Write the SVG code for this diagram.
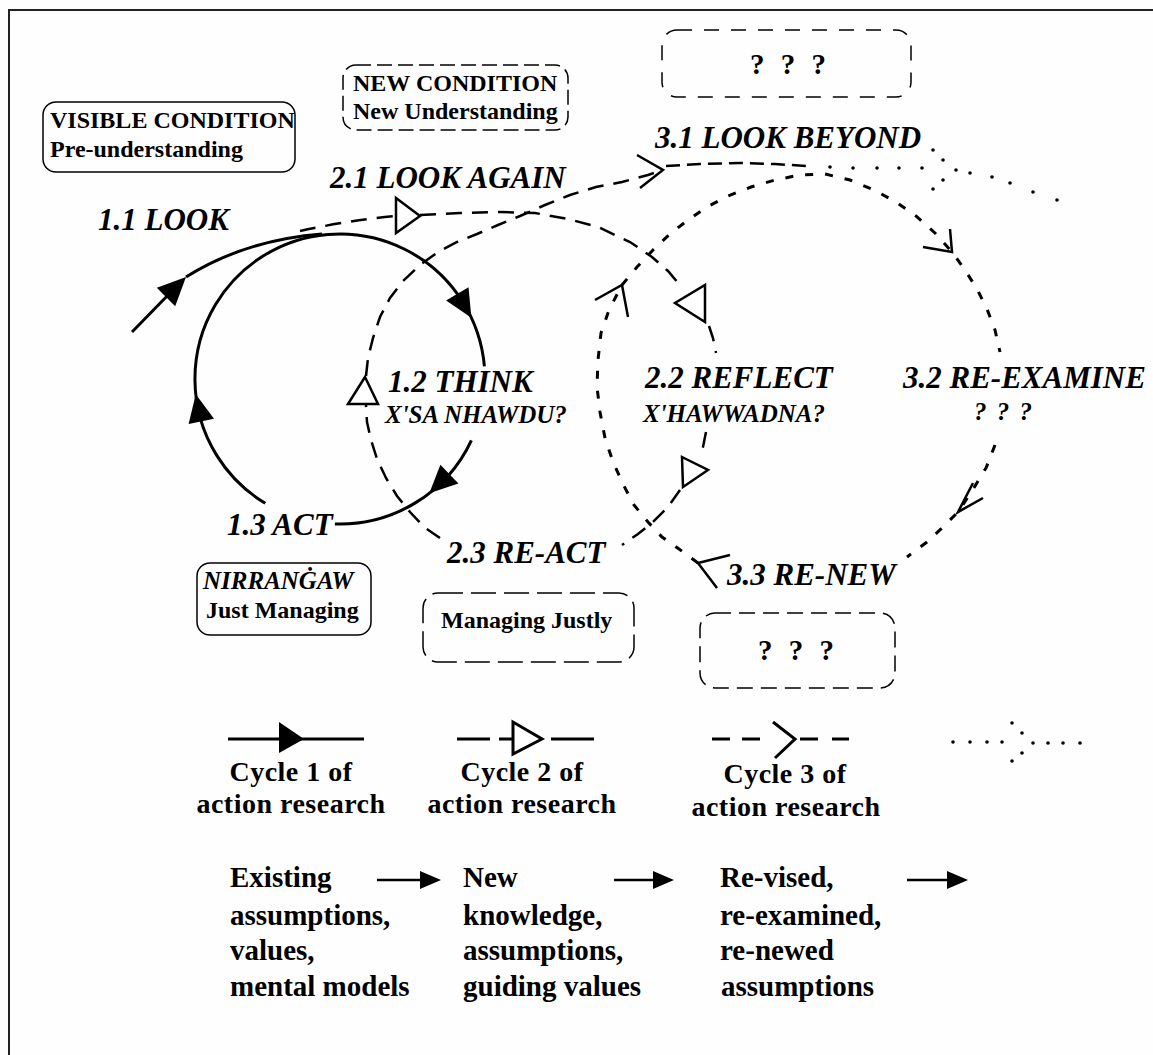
<svg xmlns="http://www.w3.org/2000/svg" width="1153" height="1055" viewBox="0 0 1153 1055">
<style>
.lbl{font-family:"Liberation Serif",serif;font-style:italic;font-weight:bold;font-size:31px;fill:#000}
.sub{font-family:"Liberation Serif",serif;font-style:italic;font-weight:bold;font-size:25px;fill:#000}
.bt{font-family:"Liberation Serif",serif;font-weight:bold;font-size:24px;fill:#000}
.q{font-family:"Liberation Serif",serif;font-weight:bold;font-size:29px;fill:#000;word-spacing:9px}
.lg{font-family:"Liberation Serif",serif;font-weight:bold;font-size:28px;fill:#000;letter-spacing:0.5px}
.tx{font-family:"Liberation Serif",serif;font-weight:bold;font-size:29px;fill:#000}
.box{fill:none;stroke:#000;stroke-width:1.5}
.c1{fill:none;stroke:#000;stroke-width:3}
.c2{fill:none;stroke:#000;stroke-width:2.5;stroke-dasharray:16 10}
.c3{fill:none;stroke:#000;stroke-width:3;stroke-dasharray:8 12}
.ca{fill:none;stroke:#000;stroke-width:2.5;stroke-dasharray:14 7}
.tri{fill:#fff;stroke:#000;stroke-width:2.5}
.solid{fill:#000}
.chev{fill:none;stroke:#000;stroke-width:2.5}
.ln{fill:none;stroke:#000;stroke-width:3}
</style>
<rect x="0" y="0" width="1153" height="1055" fill="#fefefe"/>
<path d="M9,1055 V10 H1153" fill="none" stroke="#222" stroke-width="2"/>

<g id="connectors">
  <!-- cycle 1 -->
  <path class="c1" d="M132,332 L172,291"/>
  <polygon class="solid" points="186,277 175.2,306.2 156.8,287.8"/>
  <path class="c1" d="M186,277 Q245,240 322,234"/>
  <path class="c1" d="M265.3,503.3 A145,145 0 1,1 484.4,366.4"/>
  <path class="c1" d="M471.4,440.3 A145,145 0 0,1 334.9,523.9"/>
  <polygon class="solid" points="471.4,317.7 446.1,300.4 468.5,287.2"/>
  <polygon class="solid" points="429.3,493.3 440.4,464.7 458.4,483.5"/>
  <polygon class="solid" points="195.8,394.2 214,418.8 188.6,424"/>
  <!-- cycle 2 -->
  <path class="c2" d="M300,231 Q345,221 395,216"/>
  <polygon class="tri" points="396,198 396,233 420,216"/>
  <path class="c2" d="M420,215 L460,213 L500,212 L535,213 L568,219 L598,227 L630,242 L652,257 L668,271 L678,283"/>
  <polygon class="tri" points="705,285 705,322 675,303"/>
  <path class="c2" d="M709,326 L713,338 L716,353"/>
  <path class="c2" d="M706,432 L703,447 L699,457"/>
  <polygon class="tri" points="682,457 708,470 683,487"/>
  <path class="c2" d="M680,490 L668,507 L653,522 L638,534 L622,545"/>
  <path class="c2" d="M440,538 L424,527 L410,512 L397,496 L386,478 L377,459 L371,440 L367,422 L366,405"/>
  <polygon class="tri" points="365,377 348,404 378,404"/>
  <path class="c2" d="M366,376 L368,358 L373,338 L380,317 L390,298 L403,281 L420,265 L438,252 L457,242 L477,234 L498,225 L520,216 L545,205 L570,195 L596,187 L622,182 L648,175 L663,170"/>
  <path class="chev" d="M637,155 L663,170 L640,188"/>
  <!-- look beyond line -->
  <path class="ca" d="M666,166 L700,164 L740,163 L775,164 L806,166"/>
  <g class="solid">
    <circle cx="830" cy="167" r="1.8"/><circle cx="853" cy="168" r="1.8"/><circle cx="877" cy="168" r="1.8"/>
    <circle cx="899" cy="168" r="1.8"/><circle cx="922" cy="168" r="1.8"/>
    <circle cx="933" cy="150" r="1.8"/><circle cx="943" cy="160" r="1.8"/><circle cx="943" cy="180" r="1.8"/><circle cx="933" cy="189" r="1.8"/>
    <circle cx="956" cy="170" r="1.8"/><circle cx="970" cy="173" r="1.8"/><circle cx="992" cy="177" r="1.8"/>
    <circle cx="1010" cy="183" r="1.8"/><circle cx="1033" cy="192" r="1.8"/><circle cx="1057" cy="200" r="1.8"/>
  </g>
  <!-- cycle 3 -->
  <path class="c3" d="M622,285 L637,267 L653,250 L670,234 L688,220 L707,207 L728,196 L751,187 L775,180 L800,175 L825,174 L850,180 L874,190 L896,202 L916,216 L935,233 L952,252 L965,270 L977,289 L987,309 L995,330 L1000,352"/>
  <path class="c3" d="M995,445 L986,468 L972,491 L958,512 L943,527 L927,542 L907,557"/>
  <path class="c3" d="M698,563 L679,549 L662,537 L648,522 L634,505 L623,484 L613,462 L605,438 L600,412 L597,387 L598,360 L601,333 L609,310 L622,285"/>
  <path class="chev" d="M595,300 L622,285 L628,317"/>
  <path class="chev" d="M950,229 L952,252 L923,247"/>
  <path class="chev" d="M973,483 L958,512 L983,498"/>
  <path class="chev" d="M730,555 L698,563 L717,588"/>
</g>

<g id="visible-condition">
  <rect class="box" x="43" y="102" width="252" height="70" rx="13"/>
  <text class="bt" x="50" y="128">VISIBLE CONDITION</text>
  <text class="bt" x="50" y="157">Pre-understanding</text>
</g>
<g id="new-condition">
  <rect class="box" x="343" y="65" width="225" height="65" rx="13" stroke-dasharray="15 6"/>
  <text class="bt" x="353" y="91">NEW CONDITION</text>
  <text class="bt" x="353" y="119">New Understanding</text>
</g>
<g id="unknown-top">
  <rect class="box" x="662" y="30" width="249" height="67" rx="15" stroke-dasharray="15 12"/>
  <text class="q" x="788" y="74" text-anchor="middle">? ? ?</text>
</g>
<g id="nirrangaw">
  <rect class="box" x="197" y="563" width="174" height="72" rx="13"/>
  <text class="sub" x="203" y="589">NIRRANĠAW</text>
  <text class="bt" x="206" y="618">Just Managing</text>
</g>
<g id="managing-justly">
  <rect class="box" x="423" y="593" width="211" height="69" rx="15" stroke-dasharray="25 8"/>
  <text class="bt" x="441" y="628">Managing Justly</text>
</g>
<g id="unknown-bottom">
  <rect class="box" x="700" y="613" width="195" height="75" rx="15" stroke-dasharray="16 8"/>
  <text class="q" x="796" y="660" text-anchor="middle">? ? ?</text>
</g>

<g id="step-1-1"><text class="lbl" x="98" y="230">1.1 LOOK</text></g>
<g id="step-1-2"><text class="lbl" x="388" y="392">1.2 THINK</text><text class="sub" x="385" y="423">X'SA NHAWDU?</text></g>
<g id="step-1-3"><text class="lbl" x="227" y="535">1.3 ACT</text></g>
<g id="step-2-1"><text class="lbl" x="330" y="188">2.1 LOOK AGAIN</text></g>
<g id="step-2-2"><text class="lbl" x="645" y="388">2.2 REFLECT</text><text class="sub" x="643" y="422">X'HAWWADNA?</text></g>
<g id="step-2-3"><text class="lbl" x="447" y="563">2.3 RE-ACT</text></g>
<g id="step-3-1"><text class="lbl" x="655" y="148">3.1 LOOK BEYOND</text></g>
<g id="step-3-2"><text class="lbl" x="903" y="388">3.2 RE-EXAMINE</text><text class="sub" x="1003" y="420" text-anchor="middle" style="word-spacing:4px">? ? ?</text></g>
<g id="step-3-3"><text class="lbl" x="727" y="585">3.3 RE-NEW</text></g>

<g id="legend-cycle-1">
  <path class="ln" d="M228,739 H364"/>
  <polygon class="solid" points="279,722 279,753 304,739"/>
  <text class="lg" x="291" y="781" text-anchor="middle">Cycle 1 of</text>
  <text class="lg" x="291" y="813" text-anchor="middle">action research</text>
</g>
<g id="legend-cycle-2">
  <path class="ln" d="M457,739 H490 M499,739 H513 M551,739 H594"/>
  <polygon class="tri" points="513,722 513,754 542,739" style="stroke-width:3"/>
  <text class="lg" x="522" y="781" text-anchor="middle">Cycle 2 of</text>
  <text class="lg" x="522" y="813" text-anchor="middle">action research</text>
</g>
<g id="legend-cycle-3">
  <path class="ln" d="M712,739 H730 M742,739 H760 M800,739 H818 M832,739 H849"/>
  <path class="chev" d="M773,722 L795,739 L775,758" style="stroke-width:3"/>
  <text class="lg" x="785" y="783" text-anchor="middle">Cycle 3 of</text>
  <text class="lg" x="786" y="816" text-anchor="middle">action research</text>
</g>
<g id="legend-beyond" class="solid">
  <circle cx="953" cy="742" r="1.8"/><circle cx="970" cy="742" r="1.8"/><circle cx="987" cy="742" r="1.8"/><circle cx="1002" cy="742" r="1.8"/>
  <circle cx="1012" cy="723" r="1.8"/><circle cx="1022" cy="733" r="1.8"/><circle cx="1022" cy="753" r="1.8"/><circle cx="1012" cy="761" r="1.8"/>
  <circle cx="1033" cy="743" r="1.8"/><circle cx="1048" cy="743" r="1.8"/><circle cx="1063" cy="743" r="1.8"/><circle cx="1080" cy="743" r="1.8"/>
</g>

<g id="assumptions-existing">
  <text class="tx" x="230" y="887">Existing</text>
  <text class="tx" x="230" y="925">assumptions,</text>
  <text class="tx" x="230" y="960">values,</text>
  <text class="tx" x="230" y="996">mental models</text>
</g>
<g id="assumptions-new">
  <text class="tx" x="463" y="887">New</text>
  <text class="tx" x="463" y="925">knowledge,</text>
  <text class="tx" x="463" y="960">assumptions,</text>
  <text class="tx" x="463" y="996">guiding values</text>
</g>
<g id="assumptions-revised">
  <text class="tx" x="720" y="887">Re-vised,</text>
  <text class="tx" x="720" y="925">re-examined,</text>
  <text class="tx" x="720" y="960">re-newed</text>
  <text class="tx" x="721" y="996">assumptions</text>
</g>
<g id="flow-arrows">
  <path d="M377,880 H423 M614,880 H656 M907,880 H950" stroke="#000" stroke-width="2.5" fill="none"/>
  <polygon class="solid" points="420,871 441,880 420,889"/>
  <polygon class="solid" points="653,871 674,880 653,889"/>
  <polygon class="solid" points="947,871 968,880 947,889"/>
</g>
</svg>
